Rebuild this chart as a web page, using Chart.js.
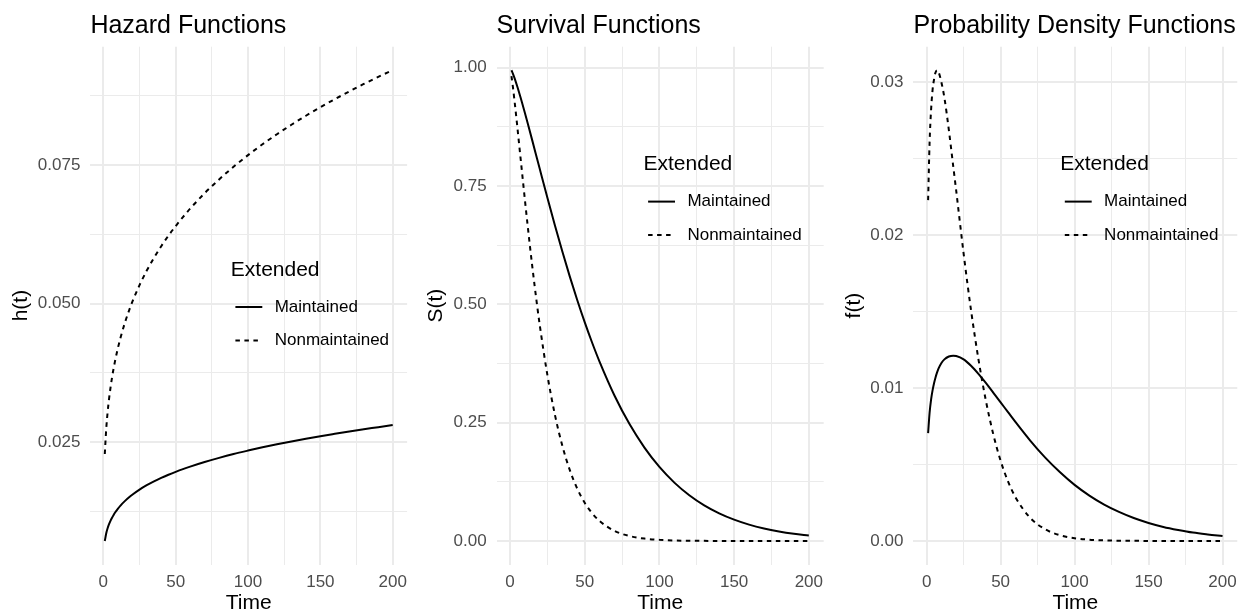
<!DOCTYPE html>
<html>
<head>
<meta charset="utf-8">
<script src="https://cdn.jsdelivr.net/npm/chart.js@4.4.1/dist/chart.umd.min.js"></script>
<style>
html,body{margin:0;padding:0;background:#fff;}
body{width:1245px;height:614px;position:relative;overflow:hidden;}
canvas{position:absolute;top:0;}
</style>
</head>
<body>
<canvas id="c1" width="422" height="614" style="left:0px"></canvas>
<canvas id="c2" width="423" height="614" style="left:415px"></canvas>
<canvas id="c3" width="415" height="614" style="left:830px"></canvas>
<script>
// ---------- data ----------
const times = [1,2,3,4,5,6,7,8,10,12,15,18,20,25,30,35,40,45,50,55,60,70,80,90,100,110,120,130,140,150,160,170,180,190,200];

const hazardMaintained = [0.00720,0.00860,0.00955,0.01028,0.01089,0.01141,0.01187,0.01229,0.01301,0.01364,0.01444,0.01513,0.01555,0.01647,0.01726,0.01795,0.01858,0.01915,0.01968,0.02017,0.02062,0.02145,0.02220,0.02289,0.02351,0.02410,0.02464,0.02515,0.02564,0.02610,0.02653,0.02695,0.02735,0.02773,0.02812];
const hazardNonmaintained = [0.02290,0.02747,0.03056,0.03296,0.03495,0.03667,0.03818,0.03955,0.04193,0.04398,0.04665,0.04893,0.05031,0.05334,0.05597,0.05826,0.06036,0.06226,0.06399,0.06561,0.06713,0.06991,0.07240,0.07468,0.07678,0.07873,0.08055,0.08226,0.08388,0.08541,0.08687,0.08827,0.08961,0.09089,0.09211];

const survivalMaintained = [0.99456,0.98698,0.97834,0.96897,0.95904,0.94869,0.93799,0.92699,0.90433,0.88103,0.84534,0.80926,0.78519,0.72556,0.66760,0.61194,0.55902,0.50911,0.46232,0.41878,0.37845,0.30690,0.24690,0.19719,0.15636,0.12327,0.09662,0.07528,0.05838,0.04505,0.03460,0.02646,0.02015,0.01528,0.01154];
const survivalNonmaintained = [0.98238,0.95816,0.93108,0.90231,0.87253,0.84218,0.81160,0.78096,0.72041,0.66164,0.57818,0.50151,0.45448,0.35130,0.26776,0.20158,0.15009,0.11064,0.08081,0.05853,0.04206,0.02124,0.01045,0.00502,0.00236,0.00108,0.00049,0.00022,0.000095,0.000041,0.000017,0.0000072,0.000003,0.0000012,0.0000005];

const densityMaintained = [0.00706,0.00840,0.00925,0.00985,0.01032,0.01070,0.01101,0.01127,0.01164,0.01188,0.01207,0.01212,0.01210,0.01188,0.01146,0.01093,0.01034,0.00971,0.00907,0.00843,0.00779,0.00657,0.00547,0.00451,0.00367,0.00297,0.00238,0.00190,0.00150,0.00118,0.00092,0.00072,0.00055,0.00043,0.00033];
const densityNonmaintained = [0.0223,0.0261,0.0282,0.0295,0.0302,0.03065,0.0308,0.0307,0.0300,0.0290,0.0269,0.0245,0.0229,0.0188,0.0151,0.0119,0.0092,0.00700,0.00525,0.00390,0.00287,0.00151,0.00077,0.00038,0.00018,0.000085,0.000039,0.000018,0.000008,0.0000035,0.0000015,0.0000006,0.0000003,0.0000001,0];

const timeTicks = [0,25,50,75,100,125,150,175,200];
const timeTickLabels = ['0','','50','','100','','150','','200'];
const hazardTicks = [0.0125,0.025,0.0375,0.05,0.0625,0.075,0.0875];
const hazardTickLabels = ['','0.025','','0.050','','0.075',''];
const survivalTicks = [0,0.125,0.25,0.375,0.5,0.625,0.75,0.875,1];
const survivalTickLabels = ['0.00','','0.25','','0.50','','0.75','','1.00'];
const densityTicks = [0,0.005,0.01,0.015,0.02,0.025,0.03];
const densityTickLabels = ['0.00','','0.01','','0.02','','0.03'];

const groups = ['Maintained','Nonmaintained'];
const legendTitle = 'Extended';
const xTitle = 'Time';

// ---------- drawing ----------
const FONT = '"Liberation Sans", Arial, Helvetica, sans-serif';
Chart.defaults.font.family = FONT;
const DASH = [4.5, 4.5];

const decoPlugin = {
  id: 'deco',
  afterDraw(chart, args, opts) {
    const ctx = chart.ctx, a = chart.chartArea;
    ctx.save();
    ctx.fillStyle = '#000';
    ctx.textAlign = 'left';
    ctx.font = '25px ' + FONT;
    ctx.textBaseline = 'alphabetic';
    ctx.fillText(opts.title, a.left, 32.5);
    const lx = opts.legendX, ly = opts.legendY;
    ctx.textBaseline = 'middle';
    ctx.font = '21px ' + FONT;
    ctx.fillText(legendTitle, lx, ly);
    ctx.font = '17px ' + FONT;
    groups.forEach((g, i) => {
      const y = ly + 37 + i * 33.5;
      ctx.beginPath();
      ctx.setLineDash(i ? DASH : []);
      ctx.lineWidth = 2;
      ctx.strokeStyle = '#000';
      ctx.lineCap = 'butt';
      ctx.moveTo(lx + 4.6, y);
      ctx.lineTo(lx + 31.5, y);
      ctx.stroke();
      ctx.setLineDash([]);
      ctx.fillText(g, lx + 43.9, y);
    });
    ctx.restore();
  }
};

function series(vals) { return times.map((t, i) => ({ x: t, y: vals[i] })); }

function makeChart(id, spec) {
  return new Chart(document.getElementById(id), {
    type: 'line',
    data: {
      datasets: [
        { label: groups[0], data: series(spec.m), borderColor: '#000', borderWidth: 2, pointRadius: 0,
          cubicInterpolationMode: 'monotone', fill: false },
        { label: groups[1], data: series(spec.n), borderColor: '#000', borderWidth: 2, pointRadius: 0,
          borderDash: DASH, cubicInterpolationMode: 'monotone', fill: false }
      ]
    },
    options: {
      responsive: false, animation: false, devicePixelRatio: 1,
      layout: { padding: { left: spec.padL, right: spec.padR, top: 46.7, bottom: 0 } },
      plugins: {
        legend: { display: false }, tooltip: { enabled: false },
        deco: { title: spec.title, legendX: spec.legendX, legendY: spec.legendY }
      },
      scales: {
        x: {
          type: 'linear', min: -8.95, max: 209.95,
          afterBuildTicks: s => { s.ticks = timeTicks.map(v => ({ value: v })); },
          afterFit: s => { s.height = 49.5; },
          ticks: { autoSkip: false, maxRotation: 0, minRotation: 0, padding: 8, color: '#4D4D4D',
                   font: { size: 17 }, callback: (v, i) => timeTickLabels[i] },
          grid: { color: '#EBEBEB', lineWidth: c => (timeTickLabels[c.index] ? 2 : 1), drawTicks: false },
          border: { display: false },
          title: { display: true, text: xTitle, color: '#000', font: { size: 21, lineHeight: 1 }, padding: 0 }
        },
        y: {
          type: 'linear', min: spec.yMin, max: spec.yMax,
          afterBuildTicks: s => { s.ticks = spec.yTicks.map(v => ({ value: v })); },
          afterFit: s => { s.width = spec.yW; },
          ticks: { autoSkip: false, padding: 10, color: '#4D4D4D', font: { size: 17 },
                   callback: (v, i) => spec.yLabels[i] },
          grid: { color: '#EBEBEB', lineWidth: c => (spec.yLabels[c.index] ? 2 : 1), drawTicks: false },
          border: { display: false },
          title: { display: true, text: spec.yTitle, color: '#000', font: { size: 21, lineHeight: 1 }, padding: 0 }
        }
      }
    },
    plugins: [decoPlugin]
  });
}

makeChart('c1', {
  m: hazardMaintained, n: hazardNonmaintained, title: 'Hazard Functions', yTitle: 'h(t)',
  yMin: 0.00297, yMax: 0.09633, yTicks: hazardTicks, yLabels: hazardTickLabels,
  padL: 10.45, yW: 79.95, padR: 14.9, legendX: 230.8, legendY: 270
});
makeChart('c2', {
  m: survivalMaintained, n: survivalNonmaintained, title: 'Survival Functions', yTitle: 'S(t)',
  yMin: -0.0497, yMax: 1.0443, yTicks: survivalTicks, yLabels: survivalTickLabels,
  padL: 10.95, yW: 70.65, padR: 14.3, legendX: 228.5, legendY: 164.6
});
makeChart('c3', {
  m: densityMaintained, n: densityNonmaintained, title: 'Probability Density Functions', yTitle: 'f(t)',
  yMin: -0.00154, yMax: 0.03234, yTicks: densityTicks, yLabels: densityTickLabels,
  padL: 13.35, yW: 70.05, padR: 6.3, legendX: 230.2, legendY: 164.6
});
</script>
</body>
</html>
